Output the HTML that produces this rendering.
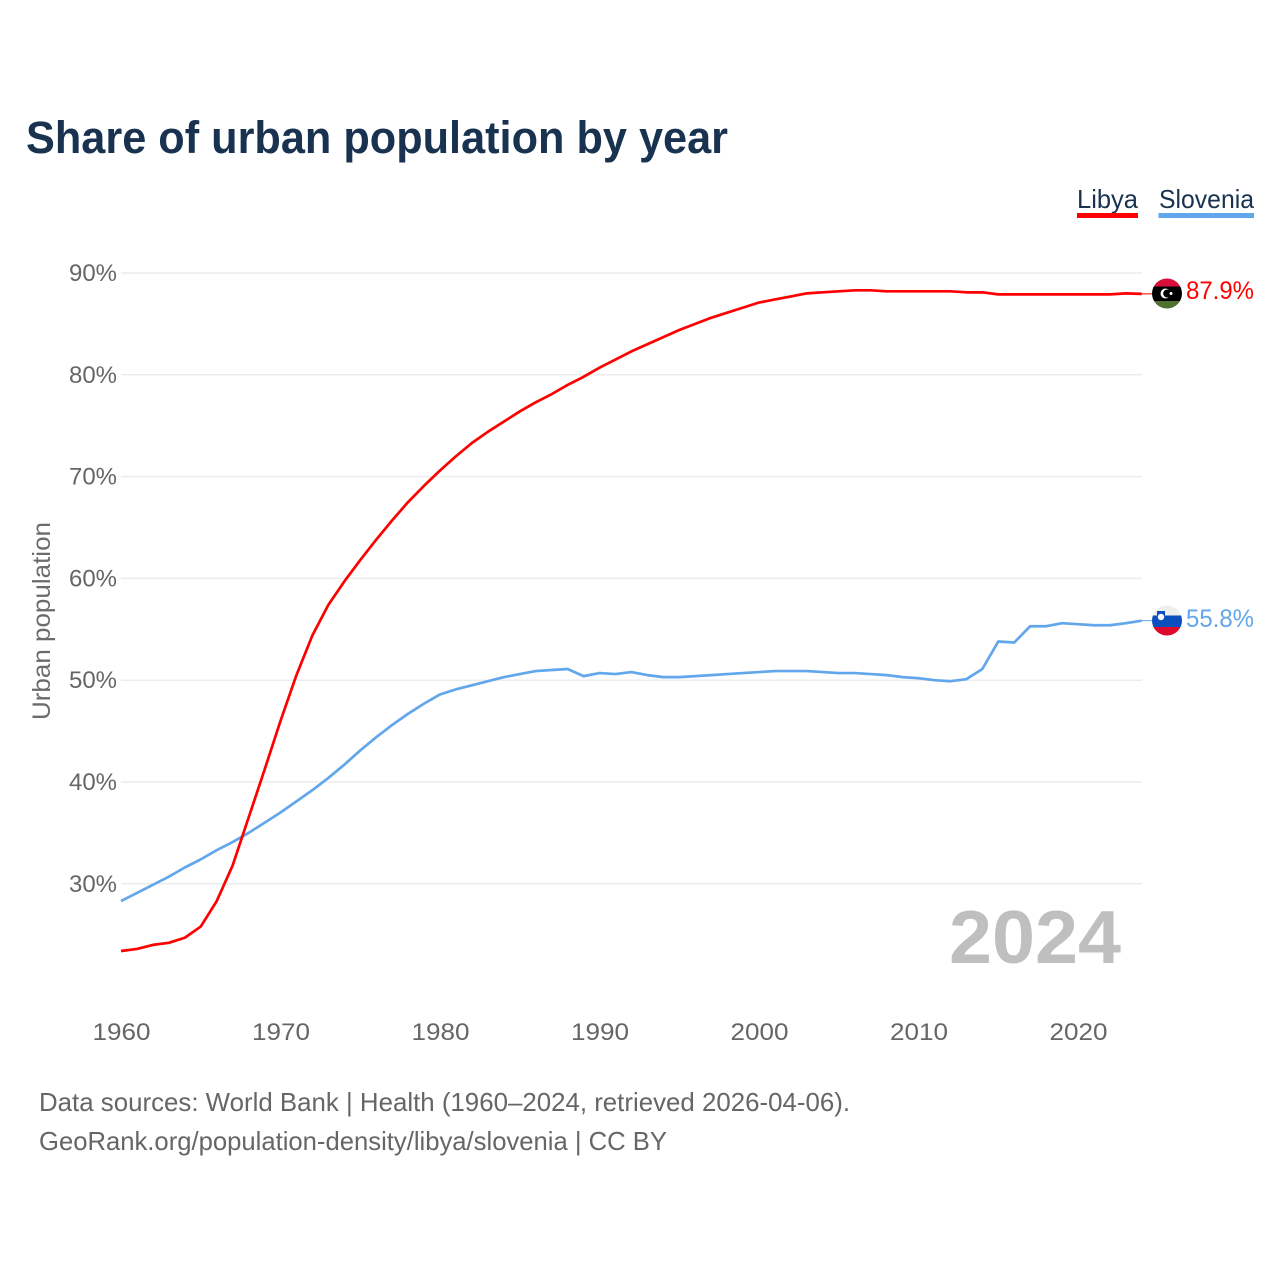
<!DOCTYPE html>
<html lang="en">
<head>
<meta charset="utf-8">
<title>Share of urban population by year</title>
<style>
html,body{margin:0;padding:0;background:#fff;width:1280px;height:1280px;overflow:hidden}
svg{display:block}
text{font-family:"Liberation Sans",sans-serif}
</style>
</head>
<body>
<svg id="chart" xmlns="http://www.w3.org/2000/svg" width="1280" height="1280" viewBox="0 0 1280 1280">
  <defs>
    <clipPath id="libya-clip"><circle cx="1167" cy="293.5" r="15"/></clipPath>
    <clipPath id="slovenia-clip"><circle cx="1167" cy="620.5" r="15"/></clipPath>
  </defs>
  <text x="26" y="153" font-size="45" font-weight="700" fill="#18324f" textLength="702" lengthAdjust="spacingAndGlyphs">Share of urban population by year</text>

  <text x="1077" y="208" font-size="26" fill="#18324f" textLength="61" lengthAdjust="spacingAndGlyphs">Libya</text>
  <rect x="1077" y="213" width="61" height="5" fill="#ff0000"/>
  <text x="1159" y="208" font-size="26" fill="#18324f" textLength="95" lengthAdjust="spacingAndGlyphs">Slovenia</text>
  <rect x="1158.500" y="213" width="95.500" height="5" fill="#62a6eb"/>

  <g id="grid"></g>
  <g id="y-ticks"></g>
  <g id="x-ticks"></g>

  <text transform="translate(50,720) rotate(-90)" font-size="25" fill="#6b6b6b" textLength="198" lengthAdjust="spacingAndGlyphs">Urban population</text>

  <text x="949" y="963" font-size="75" font-weight="700" fill="#bfbfbf" textLength="172" lengthAdjust="spacingAndGlyphs">2024</text>

  <g id="series"></g>

  <g clip-path="url(#libya-clip)">
    <rect x="1150" y="278" width="34" height="9" fill="#d80f3a"/>
    <rect x="1150" y="286.500" width="34" height="14.500" fill="#000"/>
    <rect x="1150" y="301" width="34" height="9" fill="#4f7130"/>
    <circle cx="1165.500" cy="293.500" r="5" fill="#fff"/>
    <circle cx="1167.200" cy="293.500" r="4" fill="#000"/>
    <circle cx="1171" cy="293.500" r="1.500" fill="#fff"/>
  </g>
  <text id="label-libya" x="1186" y="299" font-size="25" fill="#ff0000" textLength="68" lengthAdjust="spacingAndGlyphs">87.9%</text>

  <g clip-path="url(#slovenia-clip)">
    <rect x="1150" y="605" width="34" height="10.500" fill="#eeeeee"/>
    <rect x="1150" y="615.500" width="34" height="11.500" fill="#0b4fbf"/>
    <rect x="1150" y="627" width="34" height="10" fill="#dc0a2d"/>
    <rect x="1157" y="611" width="8" height="7" fill="#0b4fbf"/>
    <circle cx="1161" cy="617" r="3.200" fill="#fff"/>
  </g>
  <text id="label-slovenia" x="1186" y="627" font-size="25" fill="#62a6eb" textLength="68" lengthAdjust="spacingAndGlyphs">55.8%</text>

  <text x="39" y="1111" font-size="26" fill="#666666" textLength="811" lengthAdjust="spacingAndGlyphs">Data sources: World Bank | Health (1960–2024, retrieved 2026-04-06).</text>
  <a><text x="39" y="1150" font-size="26" fill="#666666" textLength="628" lengthAdjust="spacingAndGlyphs">GeoRank.org/population-density/libya/slovenia | CC BY</text></a>
</svg>
<script>
const startYear = 1960;
const libyaValues = [23.4,23.6,24.0,24.2,24.7,25.8,28.3,31.8,36.5,41.2,46.0,50.5,54.4,57.4,59.7,61.8,63.8,65.7,67.5,69.1,70.6,72.0,73.3,74.4,75.4,76.4,77.3,78.1,79.0,79.8,80.7,81.5,82.3,83.0,83.7,84.4,85.0,85.6,86.1,86.6,87.1,87.4,87.7,88.0,88.1,88.2,88.3,88.3,88.2,88.2,88.2,88.2,88.2,88.1,88.1,87.9,87.9,87.9,87.9,87.9,87.9,87.9,87.9,88.0,87.95];
const sloveniaValues = [28.3,29.1,29.9,30.7,31.6,32.4,33.3,34.1,35.0,36.0,37.0,38.1,39.2,40.4,41.7,43.1,44.4,45.6,46.7,47.7,48.6,49.1,49.5,49.9,50.3,50.6,50.9,51.0,51.1,50.4,50.7,50.6,50.8,50.5,50.3,50.3,50.4,50.5,50.6,50.7,50.8,50.9,50.9,50.9,50.8,50.7,50.7,50.6,50.5,50.3,50.2,50.0,49.9,50.1,51.1,53.8,53.7,55.3,55.3,55.6,55.5,55.4,55.4,55.6,55.85];
const yTickValues = [30,40,50,60,70,80,90];
const yTickLabels = ["30%","40%","50%","60%","70%","80%","90%"];
const xTickValues = [1960,1970,1980,1990,2000,2010,2020];
const xTickLabels = ["1960","1970","1980","1990","2000","2010","2020"];

const NS = "http://www.w3.org/2000/svg";
function xScale(year){ return 121 + (year - 1960) * 15.95; }
function yScale(v){ return 273 + (90 - v) * 10.18; }

const gridGroup = document.getElementById("grid");
const yGroup = document.getElementById("y-ticks");
const xGroup = document.getElementById("x-ticks");
const seriesGroup = document.getElementById("series");

yTickValues.forEach(function(v, i){
  const line = document.createElementNS(NS, "line");
  
  
  line.setAttribute("x1", 121);
  line.setAttribute("x2", 1142);
  line.setAttribute("y1", yScale(v));
  line.setAttribute("y2", yScale(v));
  line.setAttribute("stroke", "#ececec");
  line.setAttribute("stroke-width", "1.5");
  gridGroup.appendChild(line);

  const t = document.createElementNS(NS, "text");
  
  
  t.setAttribute("x", 69);
  t.setAttribute("y", yScale(v) + 8);
  t.setAttribute("font-size", "24");
  t.setAttribute("fill", "#666666");
  t.setAttribute("textLength", "48");
  t.setAttribute("lengthAdjust", "spacingAndGlyphs");
  t.textContent = yTickLabels[i];
  yGroup.appendChild(t);
});

xTickValues.forEach(function(year, i){
  const t = document.createElementNS(NS, "text");
  
  
  t.setAttribute("x", xScale(year) + 0.5 - 29);
  t.setAttribute("y", 1040);
  t.setAttribute("font-size", "24");
  t.setAttribute("fill", "#666666");
  t.setAttribute("textLength", "58");
  t.setAttribute("lengthAdjust", "spacingAndGlyphs");
  t.textContent = xTickLabels[i];
  xGroup.appendChild(t);
});

function drawSeries(values, color, name){
  const pts = values.map(function(v, i){
    return xScale(startYear + i).toFixed(2) + "," + yScale(v).toFixed(2);
  });
  const line = document.createElementNS(NS, "polyline");
  
  
  line.setAttribute("points", pts.join(" "));
  line.setAttribute("fill", "none");
  line.setAttribute("stroke", color);
  line.setAttribute("stroke-width", "2.7");
  line.setAttribute("stroke-linejoin", "round");
  seriesGroup.appendChild(line);

  const lastY = yScale(values[values.length - 1]);
  const connector = document.createElementNS(NS, "line");
  
  
  connector.setAttribute("x1", xScale(startYear + values.length - 1));
  connector.setAttribute("x2", 1153);
  connector.setAttribute("y1", lastY);
  connector.setAttribute("y2", lastY);
  connector.setAttribute("stroke", color);
  connector.setAttribute("stroke-width", "1");
  seriesGroup.appendChild(connector);
}
drawSeries(sloveniaValues, "#62a6eb", "line-slovenia");
drawSeries(libyaValues, "#ff0000", "line-libya");
</script>
</body>
</html>
